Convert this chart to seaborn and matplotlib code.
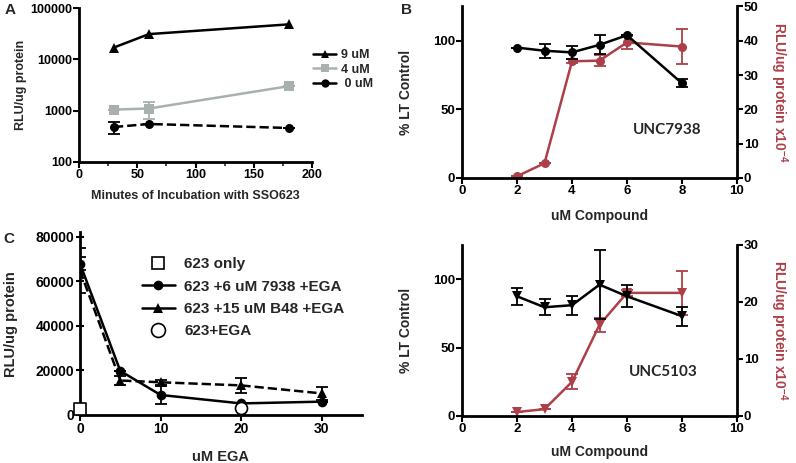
import numpy as np
import pandas as pd
import matplotlib
matplotlib.use("Agg")
import matplotlib.pyplot as plt
import seaborn as sns
from matplotlib.lines import Line2D
from matplotlib.ticker import MultipleLocator, NullLocator

sns.set_theme(style="ticks")
plt.rcParams['font.family'] = ['Liberation Sans', 'DejaVu Sans']
plt.rcParams['font.weight'] = 'bold'
plt.rcParams['mathtext.default'] = 'regular'

RED = '#ad3f48'
GRAY = '#a9b1ad'

# ---------------- Panel A data ----------------
a_minutes = [30, 60, 180]
a_9uM = [17000, 31000, 48000]
a_4uM = [1050, 1100, 3000]
a_4uM_err = [0, 400, 0]
a_0uM = [480, 550, 460]
a_0uM_err = [130, 0, 0]
a_xticks = [0, 50, 100, 150, 200]

# ---------------- Panel B data (UNC7938) ----------------
b_conc = [2, 3, 4, 5, 6, 8]
b_lt = [95, 92.7, 91.5, 97, 104, 69]
b_lt_err = [0, 5, 5, 7, 0, 3]
b_rlu = [0.5, 4.3, 34, 34.2, 39.5, 38.3]
b_rlu_err = [0, 0, 0.6, 1.5, 2, 5]

# ---------------- Panel C data ----------------
c_ega = [0, 5, 10, 20, 30]
c_7938 = [68000, 19800, 9000, 5200, 6000]
c_7938_err = [3000, 0, 4000, 0, 0]
c_b48 = [65000, 15500, 14700, 13300, 9700]
c_b48_err = [10000, 2000, 1000, 3500, 3000]
c_only_x, c_only_y = [0], [2500]
c_ega_only_x, c_ega_only_y = [20], [3000]

# ---------------- Panel D data (UNC5103) ----------------
d_conc = [2, 3, 4, 5, 6, 8]
d_lt = [87.5, 79.5, 81, 96, 87.5, 73]
d_lt_err = [6, 6, 7, 25, 8, 7]
d_rlu = [0.7, 1.2, 6.0, 16.0, 21.6, 21.6]
d_rlu_err = [0, 0, 1.3, 1.2, 0.5, 3.9]

fig = plt.figure(figsize=(7.96, 4.63), dpi=100)

def px_axes(l, t, r, b):
    W, H = 796, 463
    return fig.add_axes([l / W, 1 - b / H, (r - l) / W, (b - t) / H])

def style(ax, right=False, size=8.5):
    for s in ['left', 'bottom', 'right'] if right else ['left', 'bottom']:
        ax.spines[s].set_linewidth(2)
        ax.spines[s].set_color('black')
    ax.spines['top'].set_visible(False)
    if not right:
        ax.spines['right'].set_visible(False)
    ax.tick_params(axis='both', which='major', direction='out', length=4, width=1.5,
                   labelsize=size, colors='black', pad=1)
    ax.tick_params(axis='both', which='minor', direction='out', length=3, width=1.2)
    for lab in ax.get_xticklabels() + ax.get_yticklabels():
        lab.set_fontweight('bold')
    ax.set_facecolor('none')
    ax.grid(False)

# ================= Panel A =================
axA = px_axes(79, 8, 312, 162)
dfA = pd.DataFrame({'x': a_minutes * 3,
                    'y': a_9uM + a_4uM + a_0uM,
                    's': ['9 uM'] * 3 + ['4 uM'] * 3 + [' 0 uM'] * 3})
sns.lineplot(data=dfA[dfA.s == '9 uM'], x='x', y='y', ax=axA, color='black',
             marker='^', markersize=7, markeredgewidth=0, linewidth=1.8)
sns.lineplot(data=dfA[dfA.s == '4 uM'], x='x', y='y', ax=axA, color=GRAY,
             marker='s', markersize=6.5, markeredgewidth=0, linewidth=1.8)
sns.lineplot(data=dfA[dfA.s == ' 0 uM'], x='x', y='y', ax=axA, color='black',
             marker='o', markersize=6.5, markeredgewidth=0, linewidth=1.8, linestyle='--')
axA.errorbar(a_minutes, a_4uM, yerr=a_4uM_err, fmt='none', ecolor=GRAY, capsize=4, elinewidth=1.3, capthick=1.3)
axA.errorbar(a_minutes, a_0uM, yerr=a_0uM_err, fmt='none', ecolor='black', capsize=4, elinewidth=1.3, capthick=1.3)
axA.set_yscale('log')
axA.set_ylim(100, 100000)
axA.set_xlim(0, 200)
axA.set_xticks(a_xticks)
axA.xaxis.set_minor_locator(MultipleLocator(25))
axA.yaxis.set_minor_locator(NullLocator())
axA.set_yticks([100, 1000, 10000, 100000])
axA.set_yticklabels(['100', '1000', '10000', '100000'])
style(axA, size=9)
axA.set_xlabel('Minutes of Incubation with SSO623', fontsize=9, fontweight='bold')
axA.set_ylabel('RLU/ug protein', fontsize=9, fontweight='bold')
axA.yaxis.set_label_coords(-0.225, 0.5)
axA.xaxis.set_label_coords(0.5, -0.18)
hA = [Line2D([], [], color='black', marker='^', markersize=6, markeredgewidth=0, lw=1.8),
      Line2D([], [], color=GRAY, marker='s', markersize=5.5, markeredgewidth=0, lw=1.8),
      Line2D([], [], color='black', marker='o', markersize=6, markeredgewidth=0, lw=1.8)]
legA = fig.legend(hA, ['9 uM', '4 uM', ' 0 uM'], loc='upper left',
                  bbox_to_anchor=(302 / 796, 1 - 38 / 463), frameon=False,
                  prop={'size': 9, 'weight': 'bold'}, handlelength=1.8,
                  handletextpad=0.4, labelspacing=0.2)

# ================= Panels B and D =================
def dual_panel(top, bottom, conc, lt, lt_err, rlu, rlu_err, rmax, lt_marker, rlu_marker,
               label, lab_xy, xlab_y):
    ax = px_axes(462, top, 737, bottom)
    ax2 = ax.twinx()
    sns.lineplot(x=conc, y=lt, ax=ax, color='black', marker=lt_marker, markersize=6.5,
                 markeredgewidth=0, linewidth=1.8, zorder=3)
    ax.errorbar(conc, lt, yerr=lt_err, fmt='none', ecolor='black', capsize=4,
                elinewidth=1.3, capthick=1.3, zorder=3)
    sns.lineplot(x=conc, y=rlu, ax=ax2, color=RED, marker=rlu_marker, markersize=6.5,
                 markeredgewidth=0, linewidth=1.8)
    ax2.errorbar(conc, rlu, yerr=rlu_err, fmt='none', ecolor=RED, capsize=4,
                 elinewidth=1.3, capthick=1.3)
    ax.set_xlim(0, 10)
    ax.set_ylim(0, 125)
    ax2.set_ylim(0, rmax)
    ax.set_xticks([0, 2, 4, 6, 8, 10])
    ax.set_yticks([0, 50, 100])
    ax2.set_yticks(list(range(0, rmax + 1, 10)))
    style(ax, size=9.5)
    style(ax2, right=True, size=9.5)
    ax2.spines['left'].set_visible(False)
    ax2.spines['bottom'].set_visible(False)
    ax.set_zorder(ax2.get_zorder() + 1)
    ax.set_xlabel('uM Compound', fontsize=10, fontweight='bold')
    ax.set_ylabel('% LT Control', fontsize=10, fontweight='bold')
    ax.yaxis.set_label_coords(-0.18, 0.5)
    ax.xaxis.set_label_coords(0.5, xlab_y)
    ax2.set_ylabel(r'RLU/ug protein x10$^{-4}$', fontsize=10, fontweight='bold', color=RED,
                   rotation=270)
    ax2.yaxis.set_label_coords(1.19, 0.5)
    ax.text(lab_xy[0], lab_xy[1], label, transform=ax.transAxes, ha='center', va='center',
            fontsize=11, fontweight='bold', family='Lato')
    return ax, ax2

axB, axB2 = dual_panel(6.4, 178, b_conc, b_lt, b_lt_err, b_rlu, b_rlu_err, 50, 'o', 'o',
                       'UNC7938', (0.745, 0.28), -0.18)
axD, axD2 = dual_panel(245, 416, d_conc, d_lt, d_lt_err, d_rlu, d_rlu_err, 30, 'v', 'v',
                       'UNC5103', (0.73, 0.257), -0.17)

# ================= Panel C =================
axC = px_axes(80, 232.5, 362, 415)
sns.lineplot(x=c_ega, y=c_b48, ax=axC, color='black', marker='^', markersize=7,
             markeredgewidth=0, linewidth=1.8, linestyle='--')
axC.errorbar(c_ega, c_b48, yerr=c_b48_err, fmt='none', ecolor='black', capsize=4,
             elinewidth=1.3, capthick=1.3)
sns.lineplot(x=c_ega, y=c_7938, ax=axC, color='black', marker='o', markersize=7,
             markeredgewidth=0, linewidth=1.8)
axC.errorbar(c_ega, c_7938, yerr=c_7938_err, fmt='none', ecolor='black', capsize=4,
             elinewidth=1.3, capthick=1.3)
sns.scatterplot(x=c_only_x, y=c_only_y, ax=axC, marker='s', s=70, facecolor='white',
                edgecolor='black', linewidth=1.2, zorder=5, clip_on=False)
sns.scatterplot(x=c_ega_only_x, y=c_ega_only_y, ax=axC, marker='o', s=75, facecolor='white',
                edgecolor='black', linewidth=1.2, zorder=5, clip_on=False)
axC.set_xlim(0, 35)
axC.set_ylim(0, 82000)
axC.set_xticks([0, 10, 20, 30])
axC.set_yticks([0, 20000, 40000, 60000, 80000])
style(axC, size=10)
axC.tick_params(axis='y', direction='inout', length=6)
axC.set_xlabel('uM EGA', fontsize=10.5, fontweight='bold')
axC.set_ylabel('RLU/ug protein', fontsize=10.5, fontweight='bold')
axC.yaxis.set_label_coords(-0.22, 0.5)
axC.xaxis.set_label_coords(0.5, -0.19)
hC = [Line2D([], [], color='none', marker='s', markersize=9, markerfacecolor='white',
             markeredgecolor='black', markeredgewidth=1.2),
      Line2D([], [], color='black', marker='o', markersize=7, markeredgewidth=0, lw=1.8),
      Line2D([], [], color='black', marker='^', markersize=7, markeredgewidth=0, lw=1.8),
      Line2D([], [], color='none', marker='o', markersize=10, markerfacecolor='white',
             markeredgecolor='black', markeredgewidth=1.2)]
axC.legend(hC, ['623 only', '623 +6 uM 7938 +EGA', '623 +15 uM B48 +EGA', '623+EGA'],
           loc='upper left', bbox_to_anchor=(0.17, 0.94), frameon=False,
           prop={'size': 11, 'weight': 'bold'}, handlelength=2.2, handletextpad=0.6,
           labelspacing=0.55)

# Panel letters
fig.text(10 / 796, 1 - 10 / 463, 'A', fontsize=11, fontweight='bold', ha='center', va='center')
fig.text(407 / 796, 1 - 10 / 463, 'B', fontsize=11, fontweight='bold', ha='center', va='center')
fig.text(9 / 796, 1 - 239 / 463, 'C', fontsize=11, fontweight='bold', ha='center', va='center')

fig.savefig('out.png', dpi=100)
